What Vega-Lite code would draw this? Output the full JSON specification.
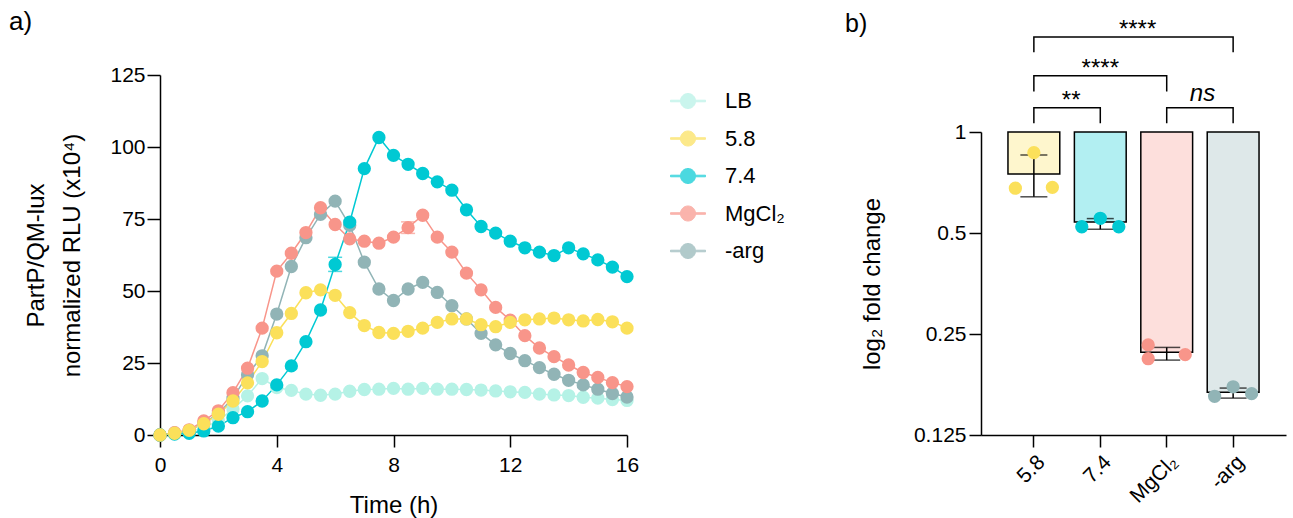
{
  "$schema": "https://vega.github.io/schema/vega-lite/v6.json",
  "autosize": {"type": "pad"},
  "padding": {"left": 9, "top": 9, "right": 4, "bottom": 2},
  "background": "white",
  "config": {
    "font": "Liberation Sans",
    "view": {"stroke": null},
    "axis": {"grid": false, "labelFlush": false, "domainColor": "black", "domainWidth": 1.5, "tickColor": "black", "tickWidth": 1.5, "labelColor": "black", "titleColor": "black", "labelFontSize": 21, "titleFontSize": 24, "titleFontWeight": "normal", "labelFont": "Liberation Sans", "titleFont": "Liberation Sans"},
    "title": {"fontSize": 26, "fontWeight": "normal", "anchor": "start", "frame": "group", "color": "black", "font": "Liberation Sans", "baseline": "alphabetic"}
  },
  "datasets": {
    "curves": [
      {"t":0,"c":"LB","v":0},{"t":0.5,"c":"LB","v":0.5},{"t":1,"c":"LB","v":1},{"t":1.5,"c":"LB","v":2.5},{"t":2,"c":"LB","v":5},{"t":2.5,"c":"LB","v":9},{"t":3,"c":"LB","v":13.6},{"t":3.5,"c":"LB","v":19.6},{"t":4,"c":"LB","v":16.5},{"t":4.5,"c":"LB","v":15.5},{"t":5,"c":"LB","v":14.2},{"t":5.5,"c":"LB","v":13.8},{"t":6,"c":"LB","v":14.2},{"t":6.5,"c":"LB","v":15.2},{"t":7,"c":"LB","v":15.8},{"t":7.5,"c":"LB","v":15.9},{"t":8,"c":"LB","v":16.2},{"t":8.5,"c":"LB","v":15.9},{"t":9,"c":"LB","v":16.2},{"t":9.5,"c":"LB","v":15.9},{"t":10,"c":"LB","v":15.9},{"t":10.5,"c":"LB","v":15.8},{"t":11,"c":"LB","v":15.6},{"t":11.5,"c":"LB","v":15.3},{"t":12,"c":"LB","v":15.0},{"t":12.5,"c":"LB","v":14.8},{"t":13,"c":"LB","v":14.2},{"t":13.5,"c":"LB","v":13.9},{"t":14,"c":"LB","v":13.7},{"t":14.5,"c":"LB","v":13.1},{"t":15,"c":"LB","v":12.8},{"t":15.5,"c":"LB","v":12.3},{"t":16,"c":"LB","v":12.0},
      {"t":0,"c":"-arg","v":0},{"t":0.5,"c":"-arg","v":0.7},{"t":1,"c":"-arg","v":1.6},{"t":1.5,"c":"-arg","v":4},{"t":2,"c":"-arg","v":7.5},{"t":2.5,"c":"-arg","v":12.8},{"t":3,"c":"-arg","v":20.9},{"t":3.5,"c":"-arg","v":27.5},{"t":4,"c":"-arg","v":42},{"t":4.5,"c":"-arg","v":58.5},{"t":5,"c":"-arg","v":68.5},{"t":5.5,"c":"-arg","v":76.6},{"t":6,"c":"-arg","v":81.2},{"t":6.5,"c":"-arg","v":72.8},{"t":7,"c":"-arg","v":60},{"t":7.5,"c":"-arg","v":50.7},{"t":8,"c":"-arg","v":46.7},{"t":8.5,"c":"-arg","v":50.7},{"t":9,"c":"-arg","v":53},{"t":9.5,"c":"-arg","v":49.5},{"t":10,"c":"-arg","v":44.9},{"t":10.5,"c":"-arg","v":40.3},{"t":11,"c":"-arg","v":35.3},{"t":11.5,"c":"-arg","v":31.3},{"t":12,"c":"-arg","v":28.3},{"t":12.5,"c":"-arg","v":25.8},{"t":13,"c":"-arg","v":23.4},{"t":13.5,"c":"-arg","v":21.1},{"t":14,"c":"-arg","v":19},{"t":14.5,"c":"-arg","v":17.4},{"t":15,"c":"-arg","v":15.9},{"t":15.5,"c":"-arg","v":14.4},{"t":16,"c":"-arg","v":13.2},
      {"t":0,"c":"MgCl₂","v":0},{"t":0.5,"c":"MgCl₂","v":0.8},{"t":1,"c":"MgCl₂","v":1.8},{"t":1.5,"c":"MgCl₂","v":4.9},{"t":2,"c":"MgCl₂","v":8.4},{"t":2.5,"c":"MgCl₂","v":14.7},{"t":3,"c":"MgCl₂","v":23.2},{"t":3.5,"c":"MgCl₂","v":37.1},{"t":4,"c":"MgCl₂","v":56.9},{"t":4.5,"c":"MgCl₂","v":63.1},{"t":5,"c":"MgCl₂","v":70.3},{"t":5.5,"c":"MgCl₂","v":78.9},{"t":6,"c":"MgCl₂","v":73.1},{"t":6.5,"c":"MgCl₂","v":68.1},{"t":7,"c":"MgCl₂","v":67.3},{"t":7.5,"c":"MgCl₂","v":66.6},{"t":8,"c":"MgCl₂","v":68.7},{"t":8.5,"c":"MgCl₂","v":72},{"t":9,"c":"MgCl₂","v":76.3},{"t":9.5,"c":"MgCl₂","v":68.7},{"t":10,"c":"MgCl₂","v":63.5},{"t":10.5,"c":"MgCl₂","v":56.2},{"t":11,"c":"MgCl₂","v":50.4},{"t":11.5,"c":"MgCl₂","v":44.3},{"t":12,"c":"MgCl₂","v":39.9},{"t":12.5,"c":"MgCl₂","v":34.5},{"t":13,"c":"MgCl₂","v":30.2},{"t":13.5,"c":"MgCl₂","v":27.2},{"t":14,"c":"MgCl₂","v":24.3},{"t":14.5,"c":"MgCl₂","v":21.7},{"t":15,"c":"MgCl₂","v":20},{"t":15.5,"c":"MgCl₂","v":18.2},{"t":16,"c":"MgCl₂","v":16.8},
      {"t":0,"c":"7.4","v":0},{"t":0.5,"c":"7.4","v":0.3},{"t":1,"c":"7.4","v":0.6},{"t":1.5,"c":"7.4","v":1.4},{"t":2,"c":"7.4","v":3.1},{"t":2.5,"c":"7.4","v":6},{"t":3,"c":"7.4","v":8.1},{"t":3.5,"c":"7.4","v":11.8},{"t":4,"c":"7.4","v":17.4},{"t":4.5,"c":"7.4","v":24},{"t":5,"c":"7.4","v":32.4},{"t":5.5,"c":"7.4","v":43.4},{"t":6,"c":"7.4","v":59.2},{"t":6.5,"c":"7.4","v":73.9},{"t":7,"c":"7.4","v":92.5},{"t":7.5,"c":"7.4","v":103.3},{"t":8,"c":"7.4","v":97.1},{"t":8.5,"c":"7.4","v":94},{"t":9,"c":"7.4","v":90.8},{"t":9.5,"c":"7.4","v":87.9},{"t":10,"c":"7.4","v":85},{"t":10.5,"c":"7.4","v":78.2},{"t":11,"c":"7.4","v":72.4},{"t":11.5,"c":"7.4","v":70.1},{"t":12,"c":"7.4","v":67.3},{"t":12.5,"c":"7.4","v":65},{"t":13,"c":"7.4","v":63.5},{"t":13.5,"c":"7.4","v":62.3},{"t":14,"c":"7.4","v":65},{"t":14.5,"c":"7.4","v":62.9},{"t":15,"c":"7.4","v":60.8},{"t":15.5,"c":"7.4","v":58.3},{"t":16,"c":"7.4","v":55},
      {"t":0,"c":"5.8","v":0},{"t":0.5,"c":"5.8","v":0.6},{"t":1,"c":"5.8","v":1.6},{"t":1.5,"c":"5.8","v":3.9},{"t":2,"c":"5.8","v":7.2},{"t":2.5,"c":"5.8","v":11.8},{"t":3,"c":"5.8","v":18.1},{"t":3.5,"c":"5.8","v":25.5},{"t":4,"c":"5.8","v":35.5},{"t":4.5,"c":"5.8","v":42.2},{"t":5,"c":"5.8","v":49.4},{"t":5.5,"c":"5.8","v":50.4},{"t":6,"c":"5.8","v":48.5},{"t":6.5,"c":"5.8","v":42.5},{"t":7,"c":"5.8","v":38},{"t":7.5,"c":"5.8","v":35.6},{"t":8,"c":"5.8","v":35.3},{"t":8.5,"c":"5.8","v":36},{"t":9,"c":"5.8","v":37.1},{"t":9.5,"c":"5.8","v":39.1},{"t":10,"c":"5.8","v":40.3},{"t":10.5,"c":"5.8","v":40.3},{"t":11,"c":"5.8","v":38.3},{"t":11.5,"c":"5.8","v":37.6},{"t":12,"c":"5.8","v":39.1},{"t":12.5,"c":"5.8","v":40},{"t":13,"c":"5.8","v":40.3},{"t":13.5,"c":"5.8","v":40.6},{"t":14,"c":"5.8","v":40},{"t":14.5,"c":"5.8","v":39.6},{"t":15,"c":"5.8","v":40.1},{"t":15.5,"c":"5.8","v":39.3},{"t":16,"c":"5.8","v":37.1}
    ],
    "curveErr": [
      {"t":6,"c":"7.4","lo":56.8,"hi":61.7},
      {"t":8.5,"c":"MgCl₂","lo":70,"hi":74}
    ],
    "bars": [
      {"c":"5.8","m":0.749,"lo":0.641,"hi":0.854},
      {"c":"7.4","m":0.539,"lo":0.513,"hi":0.552},
      {"c":"MgCl₂","m":0.2205,"lo":0.209,"hi":0.228},
      {"c":"-arg","m":0.1675,"lo":0.161,"hi":0.1725}
    ],
    "reps": [
      {"c":"5.8","r":"1","v":0.68},{"c":"5.8","r":"2","v":0.868},{"c":"5.8","r":"3","v":0.684},
      {"c":"7.4","r":"1","v":0.522},{"c":"7.4","r":"2","v":0.553},{"c":"7.4","r":"3","v":0.522},
      {"c":"MgCl₂","r":"1","v":0.232},{"c":"MgCl₂","r":"1","v":0.211},{"c":"MgCl₂","r":"3","v":0.217},
      {"c":"-arg","r":"1","v":0.163},{"c":"-arg","r":"2","v":0.174},{"c":"-arg","r":"3","v":0.166}
    ],
    "brackets": [
      {"id":"A","c":"5.8","y":1.062,"o":1},{"id":"A","c":"5.8","y":1.182,"o":2},{"id":"A","c":"7.4","y":1.182,"o":3},{"id":"A","c":"7.4","y":1.062,"o":4},
      {"id":"B","c":"5.8","y":1.32,"o":1},{"id":"B","c":"5.8","y":1.47,"o":2},{"id":"B","c":"MgCl₂","y":1.47,"o":3},{"id":"B","c":"MgCl₂","y":1.32,"o":4},
      {"id":"C","c":"5.8","y":1.73,"o":1},{"id":"C","c":"5.8","y":1.919,"o":2},{"id":"C","c":"-arg","y":1.919,"o":3},{"id":"C","c":"-arg","y":1.73,"o":4},
      {"id":"D","c":"MgCl₂","y":1.062,"o":1},{"id":"D","c":"MgCl₂","y":1.182,"o":2},{"id":"D","c":"-arg","y":1.182,"o":3},{"id":"D","c":"-arg","y":1.062,"o":4}
    ],
    "sigMid": [
      {"c":"5.8","y":1.182,"s":"**"},
      {"c":"7.4","y":1.919,"s":"****"}
    ],
    "sigCenter": [
      {"c":"7.4","y":1.47,"s":"****"}
    ],
    "sigNs": [
      {"c":"MgCl₂","y":1.182,"s":"ns"}
    ]
  },
  "bounds": "flush",
  "spacing": 354,
  "resolve": {"scale": {"x": "independent", "y": "independent", "color": "independent", "fill": "independent"}, "legend": {"color": "independent"}},
  "hconcat": [
    {
      "width": 467,
      "height": 360,
      "title": {"text": "a)", "dx": -151, "offset": 29},
      "layer": [
        {
          "data": {"name": "curves"},
          "mark": {"type": "line", "strokeWidth": 1.5},
          "encoding": {
            "x": {"field": "t", "type": "quantitative", "scale": {"domain": [0, 16], "nice": false}, "axis": {"values": [0, 4, 8, 12, 16], "title": "Time (h)", "tickSize": 12, "labelPadding": 7, "titlePadding": 18}},
            "y": {"field": "v", "type": "quantitative", "scale": {"domain": [0, 125], "nice": false}, "axis": {"values": [0, 25, 50, 75, 100, 125], "title": ["PartP/QM-lux", "normalized RLU (x10⁴)"], "titleLineHeight": 36, "tickSize": 13, "labelPadding": 2, "titlePadding": 25}},
            "color": {"field": "c", "type": "nominal", "scale": {"domain": ["LB", "5.8", "7.4", "MgCl₂", "-arg"], "range": ["#b5f2e6", "#fbe05a", "#00c9d3", "#f8958a", "#91b4b6"]}, "legend": {"title": null, "orient": "none", "legendX": 502, "legendY": 0, "padding": 8, "symbolType": "M-1,-0.045H1V0.045H-1ZM0.43,0A0.43,0.43,0,1,1,-0.43,0A0.43,0.43,0,1,1,0.43,0Z", "symbolSize": 1225, "symbolOpacity": 1, "symbolStrokeWidth": 1, "symbolFillColor": null, "labelFontSize": 22, "labelOffset": 19, "rowPadding": 8.5, "labelColor": "black", "labelFont": "Liberation Sans"}},
            "detail": {"field": "c"}
          }
        },
        {
          "data": {"name": "curveErr"},
          "mark": {"type": "rule", "strokeWidth": 1.5},
          "encoding": {
            "x": {"field": "t", "type": "quantitative"},
            "y": {"field": "lo", "type": "quantitative"},
            "y2": {"field": "hi"},
            "color": {"field": "c", "type": "nominal"}
          }
        },
        {
          "data": {"name": "curveErr"},
          "mark": {"type": "tick", "thickness": 1.5, "size": 14, "orient": "horizontal"},
          "encoding": {
            "x": {"field": "t", "type": "quantitative"},
            "y": {"field": "lo", "type": "quantitative"},
            "color": {"field": "c", "type": "nominal"}
          }
        },
        {
          "data": {"name": "curveErr"},
          "mark": {"type": "tick", "thickness": 1.5, "size": 14, "orient": "horizontal"},
          "encoding": {
            "x": {"field": "t", "type": "quantitative"},
            "y": {"field": "hi", "type": "quantitative"},
            "color": {"field": "c", "type": "nominal"}
          }
        },
        {
          "data": {"name": "curves"},
          "mark": {"type": "point", "filled": true, "opacity": 1, "size": 177, "strokeWidth": 0},
          "encoding": {
            "x": {"field": "t", "type": "quantitative"},
            "y": {"field": "v", "type": "quantitative"},
            "color": {"field": "c", "type": "nominal"}
          }
        }
      ]
    },
    {
      "width": 305,
      "height": 360,
      "title": {"text": "b)", "dx": -136, "offset": 0, "dy": 19, "fontSize": 25},
      "resolve": {"scale": {"xOffset": "independent"}},
      "layer": [
        {
          "data": {"name": "bars"},
          "mark": {"type": "bar", "fillOpacity": 0.3, "stroke": "black", "strokeWidth": 1.5},
          "encoding": {
            "x": {"field": "c", "type": "nominal", "scale": {"type": "band", "domain": ["5.8", "7.4", "MgCl₂", "-arg"], "paddingInner": 0.22, "paddingOuter": 0.406}, "axis": {"title": null, "labelAngle": -45, "tickSize": 12, "labelPadding": 4}},
            "y": {"field": "m", "type": "quantitative", "scale": {"type": "log", "base": 2, "domain": [0.125, 1], "range": [360, 57], "nice": false}, "axis": {"values": [0.125, 0.25, 0.5, 1], "format": "~g", "title": "log₂ fold change", "tickSize": 12, "labelPadding": 3, "titlePadding": 29}},
            "y2": {"datum": 1},
            "fill": {"field": "c", "type": "nominal", "scale": {"domain": ["5.8", "7.4", "MgCl₂", "-arg"], "range": ["#fbe05a", "#00c9d3", "#f8958a", "#91b4b6"]}, "legend": null}
          }
        },
        {
          "mark": {"type": "rule", "strokeWidth": 2, "color": "black"},
          "encoding": {"y": {"datum": 1}}
        },
        {
          "data": {"name": "bars"},
          "mark": {"type": "rule", "strokeWidth": 1.5, "color": "black"},
          "encoding": {
            "x": {"field": "c", "type": "nominal"},
            "y": {"field": "lo", "type": "quantitative"},
            "y2": {"field": "hi"}
          }
        },
        {
          "data": {"name": "bars"},
          "mark": {"type": "tick", "thickness": 1.5, "size": 27, "color": "black", "orient": "horizontal"},
          "encoding": {
            "x": {"field": "c", "type": "nominal"},
            "y": {"field": "lo", "type": "quantitative"}
          }
        },
        {
          "data": {"name": "bars"},
          "mark": {"type": "tick", "thickness": 1.5, "size": 27, "color": "black", "orient": "horizontal"},
          "encoding": {
            "x": {"field": "c", "type": "nominal"},
            "y": {"field": "hi", "type": "quantitative"}
          }
        },
        {
          "data": {"name": "reps"},
          "mark": {"type": "point", "filled": true, "opacity": 1, "size": 177, "strokeWidth": 0},
          "encoding": {
            "x": {"field": "c", "type": "nominal"},
            "xOffset": {"field": "r", "type": "nominal", "scale": {"domain": ["1", "2", "3"], "paddingInner": 0, "paddingOuter": 0.4}},
            "y": {"field": "v", "type": "quantitative"},
            "fill": {"field": "c", "type": "nominal", "legend": null}
          }
        },
        {
          "data": {"name": "brackets"},
          "mark": {"type": "line", "strokeWidth": 1.5, "color": "black"},
          "encoding": {
            "x": {"field": "c", "type": "nominal"},
            "y": {"field": "y", "type": "quantitative"},
            "detail": {"field": "id"},
            "order": {"field": "o", "type": "quantitative"}
          }
        },
        {
          "data": {"name": "sigMid"},
          "mark": {"type": "text", "fontSize": 24, "align": "center", "baseline": "alphabetic", "color": "black"},
          "encoding": {
            "x": {"field": "c", "type": "nominal", "bandPosition": 1.22},
            "y": {"field": "y", "type": "quantitative"},
            "text": {"field": "s"}
          }
        },
        {
          "data": {"name": "sigCenter"},
          "mark": {"type": "text", "fontSize": 24, "align": "center", "baseline": "alphabetic", "color": "black"},
          "encoding": {
            "x": {"field": "c", "type": "nominal"},
            "y": {"field": "y", "type": "quantitative"},
            "text": {"field": "s"}
          }
        },
        {
          "data": {"name": "sigNs"},
          "mark": {"type": "text", "fontSize": 24, "fontStyle": "italic", "align": "center", "baseline": "alphabetic", "dy": -7, "color": "black"},
          "encoding": {
            "x": {"field": "c", "type": "nominal", "bandPosition": 1.19},
            "y": {"field": "y", "type": "quantitative"},
            "text": {"field": "s"}
          }
        }
      ]
    }
  ]
}
